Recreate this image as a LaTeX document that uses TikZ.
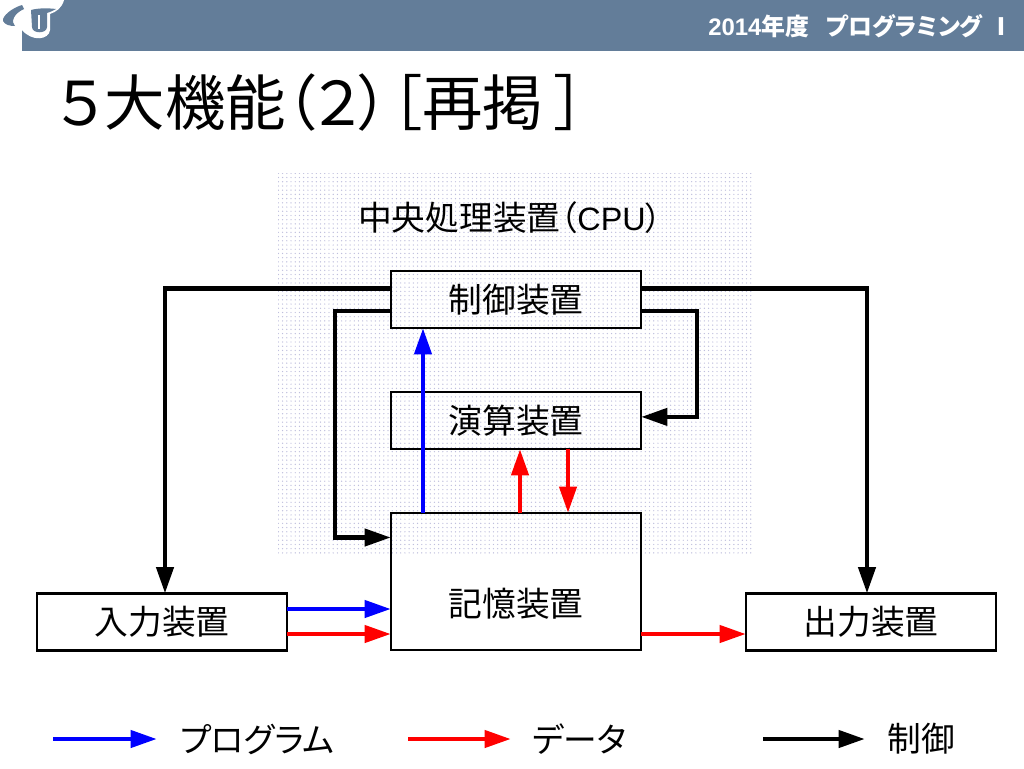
\documentclass[tikz,border=0pt]{standalone}
\usepackage{fontspec}
\setmainfont{Liberation Sans}
\newfontfamily\jp[RawFeature=+palt]{Noto Sans CJK JP}
\newfontfamily\jpfull{Noto Sans CJK JP}
\usetikzlibrary{arrows.meta,patterns}
\definecolor{headblue}{HTML}{637D99}
\definecolor{dotgray}{HTML}{BFBFDD}
\tikzset{
  box/.style={draw,line width=.65mm,minimum height=14.25mm,minimum width=62.5mm,outer sep=0pt,inner sep=0pt,font=\fontsize{24}{24}\selectfont\jp},
  txt/.style={inner sep=0pt,font=\fontsize{24}{24}\selectfont\jp},
  tip/.style={-{Triangle[length=6.6mm,width=4.2mm]}},
  ctl/.style={tip,line width=1.2mm,black},
  prog/.style={tip,line width=1.2mm,blue},
  dat/.style={tip,line width=1.2mm,red}
}
\begin{document}
\begin{tikzpicture}
[x=.25mm,y=-.25mm]
\useasboundingbox (0,0) rectangle (1024,768);
% header and logo
\fill[headblue] (22,0) rectangle (1024,51);
\fill[white] (22,0) -- (64,0) .. controls (62,8) and (56,12) .. (50,14) -- (50,30) .. controls (49,40) and (32,42) .. (22,30) -- cycle;
\fill[headblue] (22,5) .. controls (12,8) and (2,16) .. (3,21) .. controls (5,25) and (10,26) .. (15,26) .. controls (11,22) and (13,14) .. (24,9) -- cycle;
\fill[headblue] (31,10) -- (32,27) .. controls (32,34) and (47,34) .. (47,27) -- (47,13) .. controls (50,12) and (53,11) .. (56,9) .. controls (48,8) and (38,8) .. (31,10) -- cycle;
\fill[white] (38,15) rectangle (40,29);
\node[anchor=east,inner sep=0pt,text=white,font=\fontsize{17}{17}\selectfont\bfseries] (head) at (1014,26) {2014{\jp\bfseries 年度\hspace{.7em}プログラミング\hspace{.3em}Ⅰ}};
% title
\node[anchor=west,inner sep=0pt,font=\fontsize{43}{43}\selectfont\jp] (title) at (50,103) {{\jpfull ５}\hspace{-.1em}大機能（\hspace{-.15em}{\jpfull ２}\hspace{-.15em}）\hspace{.05em}［再掲\hspace{.2em}］};
% cpu area
\fill[pattern=dots,pattern color=dotgray] (278,173) rectangle (753,555);
\node[txt] (cpu) at (510,218) {中央処理装置（\fontsize{23}{23}\selectfont\rmfamily CPU\jp）};
% boxes
\node[box] (ctrl) at (516,299.5) {制御装置};
\node[box] (alu) at (516,420.5) {演算装置};
\node[box,minimum height=34.25mm] (mem) at (516,581.5) {};
\node[txt] (memtxt) at (516,604) {記憶装置};
\node[box] (in) at (162,622) {入力装置};
\node[box] (out) at (871,622) {出力装置};
% control
\draw[ctl] ([yshift=2.85mm]ctrl.west) -| ([xshift=.75mm]in.north);
\draw[ctl] ([yshift=2.85mm]ctrl.east) -| ([xshift=-1mm]out.north);
\draw[ctl] ([yshift=-2.85mm]ctrl.west) -- +(-56,0) |- ([yshift=11mm]mem.west);
\draw[ctl] ([yshift=-2.85mm]ctrl.east) -- +(56,0) |- ([yshift=.9mm]alu.east);
% program and data
\draw[prog] ([xshift=-23.25mm]mem.north) -- ([xshift=-23.25mm]ctrl.south);
\draw[dat] ([xshift=1mm]mem.north) -- ([xshift=1mm]alu.south);
\draw[dat] ([xshift=13mm]alu.south) -- ([xshift=13mm]mem.north);
\draw[prog] ([yshift=3.25mm]in.east) -- ([yshift=3.25mm]in.east -| mem.west);
\draw[dat] ([yshift=-3mm]in.east) -- ([yshift=-3mm]in.east -| mem.west);
\draw[dat] ([yshift=-3mm]out.west -| mem.east) -- ([yshift=-3mm]out.west);
% legend
\coordinate (pa) at (53,739);
\coordinate (pb) at (157,739);
\coordinate (da) at (408,739);
\coordinate (db) at (511,739);
\coordinate (ca) at (763,739);
\coordinate (cb) at (865,739);
\draw[prog] (pa) -- (pb);
\draw[dat] (da) -- (db);
\draw[ctl] (ca) -- (cb);
\node[txt,anchor=west] (ptxt) at (180,739) {プログラム};
\node[txt,anchor=west] (dtxt) at (532,739) {データ};
\node[txt,anchor=west] (ctxt) at (887,739) {制御};
\end{tikzpicture}
\end{document}
